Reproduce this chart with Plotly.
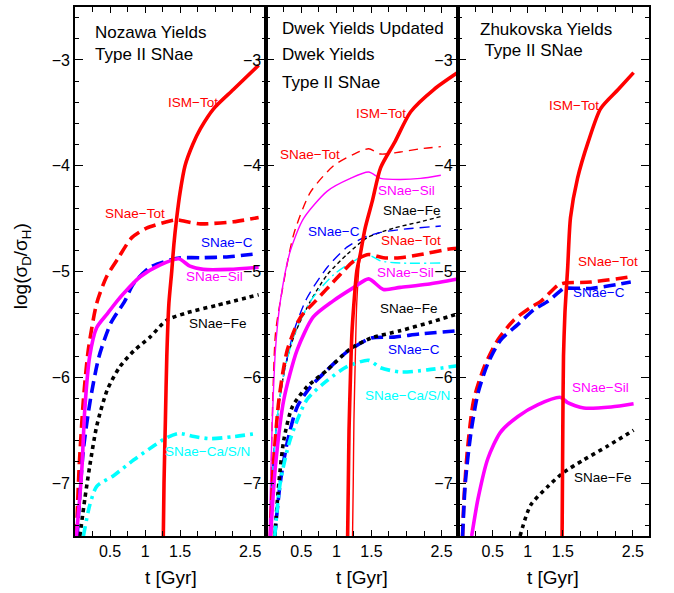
import plotly.graph_objects as go

# ---------------- data (t in Gyr, log(sigma_D/sigma_H)) ----------------
# Panel 1: Nozawa yields
noz_ism_t = [1.26, 1.27, 1.29, 1.31, 1.34, 1.38, 1.41, 1.45, 1.50, 1.57, 1.68, 1.79, 1.98, 2.26, 2.62]
noz_ism_v = [-7.5, -7.0, -6.4, -5.8, -5.3, -5.0, -4.75, -4.5, -4.25, -4.0, -3.8, -3.65, -3.46, -3.28, -3.05]
noz_tot_t = [0.02, 0.06, 0.12, 0.19, 0.31, 0.45, 0.62, 0.81, 1.02, 1.31, 1.45, 1.60, 1.79, 2.26, 2.62]
noz_tot_v = [-7.5, -6.84, -6.21, -5.74, -5.3, -5.05, -4.87, -4.68, -4.59, -4.53, -4.51, -4.53, -4.55, -4.53, -4.49]
noz_c_t = [0.03, 0.12, 0.22, 0.34, 0.51, 0.71, 0.83, 1.07, 1.36, 1.51, 1.80, 2.20, 2.62]
noz_c_v = [-7.5, -6.68, -6.21, -5.81, -5.49, -5.28, -5.12, -4.96, -4.89, -4.87, -4.87, -4.86, -4.83]
noz_sil_t = [0.02, 0.06, 0.10, 0.14, 0.21, 0.31, 0.46, 0.60, 0.69, 0.93, 1.21, 1.48, 1.64, 1.83, 2.20, 2.62]
noz_sil_v = [-7.5, -7.2, -6.84, -6.3, -5.8, -5.53, -5.4, -5.28, -5.21, -5.05, -4.94, -4.88, -4.95, -4.98, -4.98, -4.96]
noz_fe_t = [0.07, 0.14, 0.21, 0.31, 0.46, 0.64, 0.84, 1.07, 1.31, 1.60, 2.02, 2.62]
noz_fe_v = [-7.5, -7.15, -6.84, -6.46, -6.12, -5.9, -5.75, -5.62, -5.46, -5.39, -5.32, -5.22]
noz_casn_t = [0.12, 0.21, 0.31, 0.55, 0.84, 1.12, 1.31, 1.48, 1.70, 1.93, 2.27, 2.60]
noz_casn_v = [-7.5, -7.21, -7.03, -6.93, -6.78, -6.65, -6.57, -6.53, -6.56, -6.58, -6.56, -6.53]

# Panel 2: Dwek yields (thin = original, thick = updated)
dwo_ism_t = [1.23, 1.24, 1.25, 1.27, 1.29, 1.34, 1.41, 1.51, 1.63]
dwo_ism_v = [-7.5, -7.0, -6.4, -5.8, -5.3, -4.84, -4.59, -4.34, -4.02]
dwo_tot_t = [0.06, 0.08, 0.13, 0.20, 0.39, 0.63, 0.96, 1.25, 1.46, 1.63, 1.91, 2.20, 2.49]
dwo_tot_v = [-7.5, -6.52, -5.59, -5.28, -4.65, -4.25, -4.0, -3.89, -3.84, -3.89, -3.87, -3.84, -3.82]
dwo_sil_t = [0.04, 0.08, 0.13, 0.20, 0.34, 0.53, 0.87, 1.20, 1.46, 1.63, 1.91, 2.20, 2.49]
dwo_sil_v = [-7.5, -6.52, -5.74, -5.28, -4.81, -4.5, -4.24, -4.12, -4.06, -4.12, -4.13, -4.12, -4.09]
dwo_fe_t = [0.06, 0.10, 0.17, 0.27, 0.40, 0.63, 0.87, 1.15, 1.44, 1.82, 2.20, 2.49]
dwo_fe_v = [-7.5, -6.8, -6.3, -5.9, -5.6, -5.28, -5.03, -4.84, -4.68, -4.59, -4.53, -4.48]
dwo_c_t = [0.06, 0.10, 0.17, 0.27, 0.40, 0.58, 0.87, 1.15, 1.39, 1.63, 1.96, 2.49]
dwo_c_v = [-7.5, -6.8, -6.3, -5.9, -5.55, -5.25, -4.96, -4.77, -4.68, -4.63, -4.6, -4.57]
dwo_casn_t = [0.06, 0.10, 0.17, 0.27, 0.40, 0.63, 0.96, 1.25, 1.44, 1.63, 1.91, 2.49]
dwo_casn_v = [-7.5, -6.8, -6.3, -5.9, -5.6, -5.28, -5.03, -4.9, -4.84, -4.9, -4.92, -4.92]

dwu_ism_t = [1.16, 1.17, 1.18, 1.20, 1.22, 1.25, 1.29, 1.34, 1.41, 1.51, 1.63, 1.83, 2.06, 2.39, 2.73]
dwu_ism_v = [-7.5, -7.0, -6.5, -6.0, -5.6, -5.3, -5.0, -4.84, -4.59, -4.34, -4.02, -3.78, -3.49, -3.28, -3.12]
dwu_tot_t = [0.06, 0.10, 0.18, 0.30, 0.49, 0.70, 1.01, 1.25, 1.46, 1.67, 1.91, 2.20, 2.59, 2.73]
dwu_tot_v = [-7.5, -6.84, -6.21, -5.74, -5.43, -5.28, -5.06, -4.9, -4.84, -4.87, -4.87, -4.84, -4.79, -4.78]
dwu_sil_t = [0.06, 0.13, 0.25, 0.44, 0.67, 0.95, 1.25, 1.46, 1.67, 1.91, 2.30, 2.73]
dwu_sil_v = [-7.5, -6.84, -6.21, -5.74, -5.43, -5.28, -5.15, -5.07, -5.17, -5.15, -5.12, -5.07]
dwu_fe_t = [0.12, 0.18, 0.25, 0.37, 0.58, 0.87, 1.20, 1.49, 1.91, 2.34, 2.73]
dwu_fe_v = [-7.5, -6.99, -6.59, -6.28, -6.09, -5.93, -5.73, -5.63, -5.56, -5.48, -5.4]
dwu_c_t = [0.12, 0.20, 0.30, 0.44, 0.63, 0.87, 1.15, 1.49, 1.82, 2.20, 2.73]
dwu_c_v = [-7.5, -6.99, -6.61, -6.28, -6.09, -5.93, -5.76, -5.63, -5.62, -5.59, -5.56]
dwu_casn_t = [0.12, 0.20, 0.34, 0.58, 0.87, 1.15, 1.46, 1.63, 1.91, 2.30, 2.73]
dwu_casn_v = [-7.5, -6.99, -6.59, -6.21, -6.03, -5.9, -5.84, -5.91, -5.95, -5.93, -5.89]

# Panel 3: Zhukovska yields
zhu_ism_t = [1.49, 1.50, 1.51, 1.53, 1.54, 1.57, 1.61, 1.71, 1.86, 2.04, 2.29, 2.51]
zhu_ism_v = [-7.5, -6.5, -5.8, -5.4, -5.28, -4.96, -4.49, -4.12, -3.78, -3.46, -3.28, -3.12]
zhu_tot_t = [0.07, 0.09, 0.14, 0.23, 0.38, 0.57, 0.80, 1.04, 1.19, 1.43, 1.51, 1.90, 2.47]
zhu_tot_v = [-7.5, -7.15, -6.68, -6.21, -5.9, -5.65, -5.46, -5.34, -5.28, -5.13, -5.11, -5.1, -5.05]
zhu_c_t = [0.07, 0.11, 0.19, 0.29, 0.43, 0.61, 0.86, 1.09, 1.29, 1.47, 1.51, 1.90, 2.47]
zhu_c_v = [-7.5, -6.99, -6.52, -6.15, -5.87, -5.65, -5.5, -5.36, -5.28, -5.18, -5.16, -5.16, -5.1]
zhu_sil_t = [0.20, 0.29, 0.43, 0.61, 0.86, 1.14, 1.47, 1.57, 1.80, 2.19, 2.51]
zhu_sil_v = [-7.5, -7.15, -6.77, -6.52, -6.37, -6.26, -6.19, -6.24, -6.29, -6.28, -6.25]
zhu_fe_t = [0.89, 1.04, 1.29, 1.51, 1.80, 2.14, 2.51]
zhu_fe_v = [-7.5, -7.21, -7.03, -6.9, -6.78, -6.65, -6.5]

panel_titles = [["Nozawa Yields", "Type II SNae"],
                ["Dwek Yields Updated", "Dwek Yields", "Type II SNae"],
                ["Zhukovska Yields", " Type II SNae"]]
x_tick_vals = [0.5, 1, 1.5, 2.5]
x_tick_text = ["0.5", "1", "1.5", "2.5"]
y_tick_vals = [-7, -6, -5, -4, -3]

# ---------------- styles ----------------
RED, BLUE, MAG, BLK, CYAN = "#ff0000", "#0000ff", "#ff00ff", "#000000", "#00ffff"
TH, TN = 3.6, 1.4
DASH = "12px,6px"
DOT = "4px,4px"
DASHDOT = "10px,5px,3px,5px"
FONT = "Liberation Sans, Arial, sans-serif"

fig = go.Figure()

def add(panel, t, v, color, width, dash="solid"):
    sfx = "" if panel == 1 else str(panel)
    fig.add_trace(go.Scatter(x=t, y=v, mode="lines", xaxis="x" + sfx, yaxis="y" + sfx,
                             line=dict(color=color, width=width, dash=dash, shape="spline", smoothing=0.7),
                             showlegend=False, hoverinfo="skip"))

# panel 1
add(1, noz_tot_t, noz_tot_v, RED, TH, DASH)
add(1, noz_c_t, noz_c_v, BLUE, TH, DASH)
add(1, noz_fe_t, noz_fe_v, BLK, TH, DOT)
add(1, noz_casn_t, noz_casn_v, CYAN, TH, DASHDOT)
add(1, noz_sil_t, noz_sil_v, MAG, TH)
add(1, noz_ism_t, noz_ism_v, RED, TH)

# panel 2 thin
add(2, dwo_tot_t, dwo_tot_v, RED, TN, "9px,6px")
add(2, dwo_sil_t, dwo_sil_v, MAG, TN)
add(2, dwo_fe_t, dwo_fe_v, BLK, TN, "4px,3px")
add(2, dwo_c_t, dwo_c_v, BLUE, TN, "10px,6px")
add(2, dwo_casn_t, dwo_casn_v, CYAN, TN, "10px,4px,2px,4px")
add(2, dwo_ism_t, dwo_ism_v, RED, TN)
# panel 2 thick
add(2, dwu_tot_t, dwu_tot_v, RED, TH, DASH)
add(2, dwu_c_t, dwu_c_v, BLUE, TH, DASH)
add(2, dwu_fe_t, dwu_fe_v, BLK, TH, DOT)
add(2, dwu_casn_t, dwu_casn_v, CYAN, TH, DASHDOT)
add(2, dwu_sil_t, dwu_sil_v, MAG, TH)
add(2, dwu_ism_t, dwu_ism_v, RED, TH)

# panel 3
add(3, zhu_tot_t, zhu_tot_v, RED, TH, DASH)
add(3, zhu_c_t, zhu_c_v, BLUE, TH, DASH)
add(3, zhu_fe_t, zhu_fe_v, BLK, TH, DOT)
add(3, zhu_sil_t, zhu_sil_v, MAG, TH)
add(3, zhu_ism_t, zhu_ism_v, RED, TH)

# ---------------- axes ----------------
common = dict(showline=True, linecolor="black", linewidth=1.8, mirror="allticks",
              ticks="inside", tickcolor="black", tickwidth=1, showgrid=False, zeroline=False,
              tickfont=dict(family=FONT, size=16, color="black"))
domains = [[0, 1/3], [1/3, 2/3], [2/3, 1]]
layout = {}
for i in range(3):
    sfx = "" if i == 0 else str(i + 1)
    layout["xaxis" + sfx] = dict(common, domain=domains[i], range=[0, 2.73], anchor="y" + sfx,
                                 tickmode="array", tickvals=x_tick_vals, ticktext=x_tick_text, ticklen=6,
                                 minor=dict(ticks="inside", ticklen=5, tick0=0, dtick=0.25, tickcolor="black", showgrid=False))
    layout["yaxis" + sfx] = dict(common, domain=[0, 1], range=[-7.5, -2.5], anchor="x" + sfx,
                                 tickmode="array", tickvals=y_tick_vals, ticklen=8,
                                 minor=dict(ticks="inside", ticklen=4, tick0=0, dtick=0.2, tickcolor="black", showgrid=False))

fig.update_layout(width=674, height=593, margin=dict(l=75, r=25, t=5, b=57),
                  paper_bgcolor="white", plot_bgcolor="white", **layout)

annos = []
def lab(panel, x, y, text, color, size=13.5, xanchor="center"):
    sfx = "" if panel == 1 else str(panel)
    annos.append(dict(xref="x" + sfx, yref="y" + sfx, x=x, y=y, text=text, showarrow=False,
                      xanchor=xanchor, yanchor="middle", font=dict(family=FONT, size=size, color=color)))

# panel header texts
lab(1, 0.26, -2.74, panel_titles[0][0], "black", 17, "left")
lab(1, 0.26, -2.95, panel_titles[0][1], "black", 17, "left")
lab(2, 0.19, -2.70, panel_titles[1][0], "black", 17, "left")
lab(2, 0.19, -2.95, panel_titles[1][1], "black", 17, "left")
lab(2, 0.19, -3.21, panel_titles[1][2], "black", 17, "left")
lab(3, 0.29, -2.71, panel_titles[2][0], "black", 17, "left")
lab(3, 0.29, -2.91, panel_titles[2][1], "black", 17, "left")

# curve labels panel 1
lab(1, 1.69, -3.40, "ISM−Tot", RED)
lab(1, 0.86, -4.45, "SNae−Tot", RED)
lab(1, 2.17, -4.73, "SNae−C", BLUE)
lab(1, 1.99, -5.05, "SNae−Sil", MAG)
lab(1, 2.04, -5.49, "SNae−Fe", BLK)
lab(1, 1.89, -6.70, "SNae−Ca/S/N", CYAN)
# panel 2
lab(2, 1.63, -3.51, "ISM−Tot", RED)
lab(2, 0.63, -3.89, "SNae−Tot", RED)
lab(2, 2.00, -4.23, "SNae−Sil", MAG)
lab(2, 2.07, -4.42, "SNae−Fe", BLK)
lab(2, 0.96, -4.62, "SNae−C", BLUE)
lab(2, 2.06, -4.71, "SNae−Tot", RED)
lab(2, 1.99, -5.01, "SNae−Sil", MAG)
lab(2, 2.03, -5.35, "SNae−Fe", BLK)
lab(2, 2.10, -5.74, "SNae−C", BLUE)
lab(2, 2.01, -6.17, "SNae−Ca/S/N", CYAN)
# panel 3
lab(3, 1.66, -3.43, "ISM−Tot", RED)
lab(3, 2.14, -4.91, "SNae−Tot", RED)
lab(3, 2.01, -5.20, "SNae−C", BLUE)
lab(3, 2.04, -6.10, "SNae−Sil", MAG)
lab(3, 2.07, -6.95, "SNae−Fe", BLK)

# axis titles
for i in range(3):
    annos.append(dict(xref="paper", yref="paper", x=(i + 0.5) / 3, y=-42 / 531, text="t [Gyr]",
                      showarrow=False, xanchor="center", yanchor="middle",
                      font=dict(family=FONT, size=19, color="black")))
annos.append(dict(xref="paper", yref="paper", x=-53 / 574, y=0.51,
                  text="log(σ<sub>D</sub>/σ<sub>H</sub>)", textangle=-90, showarrow=False,
                  xanchor="center", yanchor="middle", font=dict(family=FONT, size=19, color="black")))

fig.update_layout(annotations=annos)
fig.write_html("out.html", config={"displayModeBar": False},
               post_script="document.body.style.margin='0px';")
